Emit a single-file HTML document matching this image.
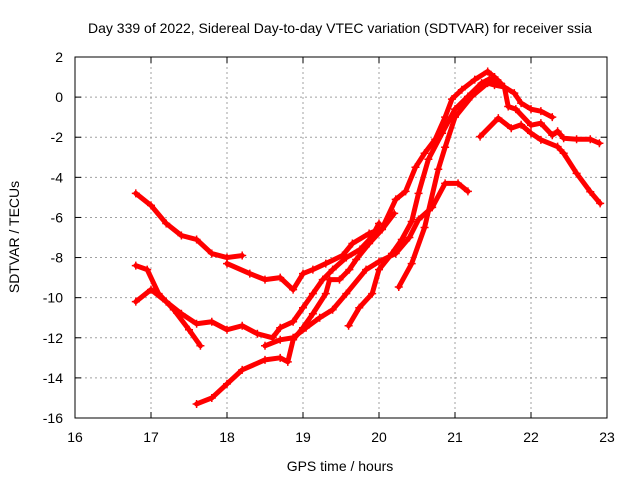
<!DOCTYPE html>
<html><head><meta charset="utf-8"><style>
body{margin:0;background:#fff}
svg{display:block;font-family:"Liberation Sans",sans-serif}
</style></head><body>
<svg id="chart" width="640" height="480">
<text x="340" y="33" text-anchor="middle" font-size="14">Day 339 of 2022, Sidereal Day-to-day VTEC variation (SDTVAR) for receiver ssia</text>
<text x="340" y="471" text-anchor="middle" font-size="14">GPS time / hours</text>
<text transform="translate(19,237) rotate(-90)" text-anchor="middle" font-size="14">SDTVAR / TECUs</text>
<g id="grid"></g><g id="series"></g><g id="axes"></g>
</svg>
<script>
const xTicks=[16,17,18,19,20,21,22,23];
const yTicks=[2,0,-2,-4,-6,-8,-10,-12,-14,-16];
const trackA=[[16.8,-4.8],[17.0,-5.4],[17.2,-6.3],[17.4,-6.9],[17.6,-7.1],[17.8,-7.8],[18.0,-8.0],[18.2,-7.9]];
const trackB=[[18.0,-8.3],[18.3,-8.8],[18.5,-9.1],[18.7,-9.0],[18.87,-9.6],[19.0,-8.8],[19.13,-8.6],[19.3,-8.3],[19.52,-7.9],[19.65,-7.3],[19.87,-6.8],[20.04,-6.55],[20.22,-5.1],[20.35,-4.7],[20.48,-3.5],[20.6,-2.8],[20.74,-2.1],[20.87,-1.0],[20.96,-0.1],[21.09,0.37],[21.26,0.87],[21.43,1.28],[21.52,1.0],[21.6,0.7]];
const trackC=[[16.8,-10.2],[17.0,-9.6],[17.2,-10.2],[17.4,-10.8],[17.6,-11.3],[17.8,-11.2],[18.0,-11.6],[18.2,-11.4],[18.4,-11.8],[18.6,-12.0],[18.7,-11.5],[18.87,-11.2],[19.0,-10.5],[19.13,-9.8],[19.26,-9.1],[19.39,-8.6],[19.57,-8.0],[19.75,-7.6],[19.9,-7.0],[20.0,-6.3]];
const trackD=[[16.8,-8.4],[16.95,-8.6],[17.1,-9.8],[17.3,-10.6],[17.5,-11.6],[17.65,-12.4]];
const trackE=[[17.6,-15.3],[17.8,-15.0],[18.0,-14.3],[18.2,-13.6],[18.5,-13.1],[18.7,-13.0],[18.8,-13.2],[18.87,-12.1],[19.0,-11.5],[19.13,-10.8],[19.3,-9.8],[19.35,-9.1],[19.48,-9.1],[19.61,-8.6],[19.7,-8.1],[19.87,-7.3],[20.04,-6.6],[20.2,-5.8]];
const trackF=[[18.5,-12.4],[18.7,-12.1],[18.87,-12.0],[19.04,-11.5],[19.22,-11.0],[19.39,-10.6],[19.57,-9.8],[19.83,-8.6],[20.0,-8.2],[20.22,-7.8],[20.4,-7.0],[20.52,-6.1],[20.7,-5.5],[20.87,-4.3],[21.04,-4.3],[21.17,-4.7]];
const trackG=[[19.6,-11.4],[19.74,-10.5],[19.91,-9.8],[20.0,-8.6],[20.17,-7.8],[20.3,-7.1],[20.43,-6.2],[20.52,-4.8],[20.65,-3.1],[20.83,-1.8],[21.0,-0.6],[21.17,0.03],[21.35,0.7],[21.45,0.9],[21.52,0.8],[21.65,0.5],[21.7,-0.47],[21.8,-0.6],[22.0,-1.4],[22.13,-1.3],[22.28,-1.9],[22.35,-1.7],[22.43,-2.05],[22.6,-2.1],[22.78,-2.1],[22.9,-2.3]];
const trackH=[[20.26,-9.47],[20.43,-8.3],[20.6,-6.5],[20.78,-3.6],[20.87,-2.5],[21.0,-1.0],[21.22,0.03],[21.43,0.7],[21.52,0.6],[21.65,0.5],[21.78,0.2],[21.87,-0.3],[22.0,-0.6],[22.13,-0.7],[22.28,-1.0]];
const trackI=[[21.33,-1.97],[21.57,-1.05],[21.74,-1.55],[21.87,-1.38],[22.0,-1.8],[22.13,-2.13],[22.35,-2.47],[22.43,-2.8],[22.6,-3.8],[22.78,-4.72],[22.91,-5.3]];
const tracks=[trackA,trackB,trackC,trackD,trackE,trackF,trackG,trackH,trackI];
const L=75,R=607,T=57,B=418;
const sx=v=>L+(v-16)/(23-16)*(R-L);
const sy=v=>T+(2-v)/(2+16)*(B-T);
const NS="http://www.w3.org/2000/svg";
function mk(tag,attrs,parent){const e=document.createElementNS(NS,tag);for(const k in attrs)e.setAttribute(k,attrs[k]);parent.appendChild(e);return e;}
const grid=document.getElementById('grid'),axes=document.getElementById('axes'),ser=document.getElementById('series');
xTicks.forEach(t=>{
 const g=mk('line',{x1:sx(t),x2:sx(t),y1:T,y2:B,stroke:'#a0a0a0','stroke-dasharray':'2,3'},grid);
 
 
 const tx=mk('text',{x:sx(t),y:B+24,'text-anchor':'middle','font-size':14},axes);
 tx.textContent=t;
 
 
 mk('line',{x1:sx(t),x2:sx(t),y1:B,y2:B-6,stroke:'#000'},axes);
 mk('line',{x1:sx(t),x2:sx(t),y1:T,y2:T+6,stroke:'#000'},axes);
});
yTicks.forEach(t=>{
 const g=mk('line',{x1:L,x2:R,y1:sy(t),y2:sy(t),stroke:'#a0a0a0','stroke-dasharray':'2,3'},grid);
 
 
 const tx=mk('text',{x:L-12,y:sy(t)+5,'text-anchor':'end','font-size':14},axes);
 tx.textContent=t;
 
 
 mk('line',{x1:L,x2:L+6,y1:sy(t),y2:sy(t),stroke:'#000'},axes);
 mk('line',{x1:R,x2:R-6,y1:sy(t),y2:sy(t),stroke:'#000'},axes);
});
const fr=mk('rect',{x:L,y:T,width:R-L,height:B-T,fill:'none',stroke:'#000'},axes);


tracks.forEach(tr=>{
 const pl=mk('polyline',{points:tr.map(p=>sx(p[0])+','+sy(p[1])).join(' '),fill:'none',stroke:'#ff0000','stroke-width':5,'stroke-linejoin':'round','stroke-linecap':'round'},ser);
 
 
 tr.forEach(p=>{
  const x=sx(p[0]),y=sy(p[1]);
  const m=mk('path',{d:`M${x-4},${y}H${x+4}M${x},${y-4}V${y+4}`,stroke:'#ff0000','stroke-width':1.5},ser);
  
  
 });
});
</script>
</body></html>
